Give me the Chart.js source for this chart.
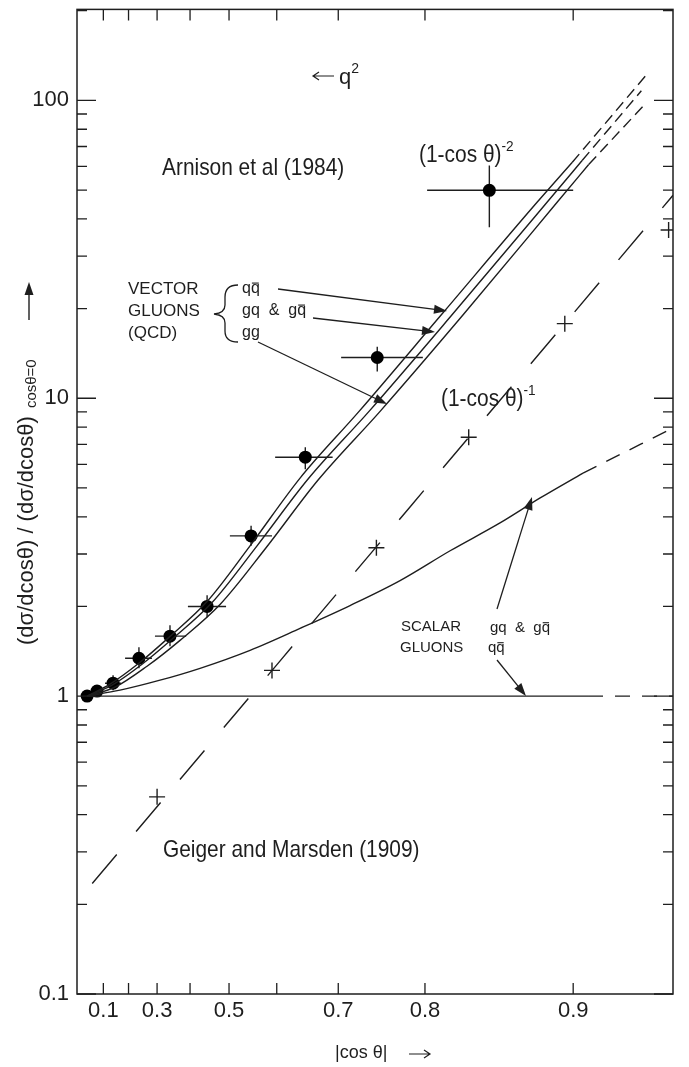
<!DOCTYPE html>
<html lang="en">
<head>
  <meta charset="UTF-8">
  <script src="https://cdn.jsdelivr.net/npm/chart.js@4.4.0/dist/chart.umd.min.js"></script>
  <style>
    body { margin: 0; background: #fff; }
    .wrap { position: relative; width: 689px; height: 1067px; }
  </style>
</head>
<body>
  <div class="wrap"><canvas id="plot"></canvas></div>
  <script>
    // axis ticks (|cos theta| along x, ratio along y)
    const xTicks = [0.1, 0.2, 0.3, 0.4, 0.5, 0.6, 0.7, 0.8, 0.9];
    const xTickLabels = ['0.1', '', '0.3', '', '0.5', '', '0.7', '0.8', '0.9'];
    const yTicks = [0.1, 1, 10, 100];
    const yTickLabels = ['0.1', '1', '10', '100'];

    // Arnison et al (1984), with error bars
    const arnCos   = [0.029, 0.073, 0.140, 0.238, 0.341, 0.446, 0.549, 0.650, 0.750, 0.852];
    const arnVal   = [1.0, 1.04, 1.105, 1.34, 1.59, 2.0, 3.45, 6.34, 13.7, 49.9];
    const arnCosLo = [null, null, 0.107, 0.187, 0.293, 0.394, 0.502, 0.597, 0.704, 0.802];
    const arnCosHi = [null, null, 0.171, 0.283, 0.389, 0.493, 0.591, 0.692, 0.798, 0.900];
    const arnValLo = [null, null, 1.047, 1.24, 1.47, 1.84, 3.2, 5.78, 12.3, 37.5];
    const arnValHi = [null, null, 1.175, 1.458, 1.73, 2.18, 3.73, 6.85, 14.9, 60.4];

    // Geiger and Marsden (1909)
    const gmCos = [0.300, 0.591, 0.749, 0.837, 0.896, 0.936];
    const gmVal = [0.459, 1.22, 3.15, 7.4, 17.8, 36.7];

    // Rutherford line through them
    const rutCos = [0.052, 0.9373];
    const rutVal = [0.235, 48.0];

    // vector gluons (QCD)
    const qqCos = [0.0286, 0.1277, 0.2419, 0.3411, 0.4458, 0.5468, 0.6413, 0.7278, 0.8162, 0.8816, 0.8995];
    const qqVal = [1, 1.097, 1.299, 1.587, 2.077, 3.196, 5.395, 9.035, 19.36, 45.48, 61.86];
    const qqExtCos = [0.8995, 0.9287];
    const qqExtVal = [61.86, 120.8];

    const gqCos = [0.0286, 0.1358, 0.2489, 0.3503, 0.4587, 0.5614, 0.6545, 0.7402, 0.8238, 0.887, 0.9041];
    const gqVal = [1, 1.088, 1.279, 1.563, 2.061, 3.196, 5.354, 9.035, 19.06, 45.48, 62.83];
    const gqExtCos = [0.9041, 0.9273];
    const gqExtVal = [62.83, 107.7];

    const ggCos = [0.0286, 0.1479, 0.2663, 0.3712, 0.4785, 0.5795, 0.6703, 0.7533, 0.8327, 0.8922, 0.907];
    const ggVal = [1, 1.072, 1.26, 1.539, 2.03, 3.148, 5.313, 9.035, 19.06, 45.48, 60.92];
    const ggExtCos = [0.907, 0.9277];
    const ggExtVal = [60.92, 95.2];

    // scalar gluons
    const scCos = [0.0286, 0.1675, 0.3096, 0.4274, 0.5468, 0.6413, 0.7161, 0.7753, 0.8222, 0.8592, 0.8833, 0.9045];
    const scVal = [1, 1.047, 1.131, 1.24, 1.425, 1.688, 2.014, 2.442, 3.076, 3.815, 4.626, 5.607];
    const scExtCos = [0.9045, 0.9383];
    const scExtVal = [5.607, 8.05];

    const flatCos = [0.0286, 0.9067];
    const flatVal = [1, 1];
    const flatExtCos = [0.9067, 0.9383];
    const flatExtVal = [1, 1];

    // x is plotted as 1/(1-cos) on a log axis
    const u = c => 1 / (1 - c);
    const pts = (cs, vs) => cs.map((c, i) => ({ x: u(c), y: vs[i] }));

    const INK = '#1e1e1e';
    const FONT = '"Liberation Sans", Arial, sans-serif';

    function curve(cs, vs, dash) {
      return {
        data: pts(cs, vs), showLine: true, pointRadius: 0,
        borderColor: INK, borderWidth: 1.4, borderDash: dash || [],
        cubicInterpolationMode: 'monotone'
      };
    }

    // text helpers (slightly condensed like the original lettering)
    function rich(ctx, x, y, segs, sx) {
      ctx.save();
      ctx.translate(x, y);
      ctx.scale(sx || 1, 1);
      ctx.textBaseline = 'alphabetic';
      ctx.textAlign = 'left';
      let cx = 0;
      segs.forEach(s => {
        ctx.font = s.size + 'px ' + FONT;
        ctx.fillText(s.t, cx, s.dy || 0);
        const w = ctx.measureText(s.t).width;
        if (s.bar) {
          ctx.lineWidth = 1.1;
          ctx.beginPath();
          ctx.moveTo(cx + w - ctx.measureText(s.bar).width + 1, (s.dy || 0) - s.size * 0.62);
          ctx.lineTo(cx + w - 1, (s.dy || 0) - s.size * 0.62);
          ctx.stroke();
        }
        cx += w;
      });
      ctx.restore();
    }

    function arrow(ctx, x1, y1, x2, y2) {
      const a = Math.atan2(y2 - y1, x2 - x1), L = 13, W = 4.5;
      ctx.beginPath();
      ctx.moveTo(x1, y1);
      ctx.lineTo(x2 - L * Math.cos(a) * 0.8, y2 - L * Math.sin(a) * 0.8);
      ctx.stroke();
      ctx.beginPath();
      ctx.moveTo(x2, y2);
      ctx.lineTo(x2 - L * Math.cos(a) + W * Math.sin(a), y2 - L * Math.sin(a) - W * Math.cos(a));
      ctx.lineTo(x2 - L * Math.cos(a) - W * Math.sin(a), y2 - L * Math.sin(a) + W * Math.cos(a));
      ctx.closePath();
      ctx.fill();
    }

    // thin text-style arrow (open head)
    function thinArrow(ctx, x1, y1, x2, y2) {
      const a = Math.atan2(y2 - y1, x2 - x1), L = 6, W = 4;
      ctx.beginPath();
      ctx.moveTo(x1, y1);
      ctx.lineTo(x2, y2);
      ctx.moveTo(x2 - L * Math.cos(a) + W * Math.sin(a), y2 - L * Math.sin(a) - W * Math.cos(a));
      ctx.lineTo(x2, y2);
      ctx.lineTo(x2 - L * Math.cos(a) - W * Math.sin(a), y2 - L * Math.sin(a) + W * Math.cos(a));
      ctx.stroke();
    }

    const framePlugin = {
      id: 'frame',
      beforeDatasetsDraw(chart) {
        const { ctx, scales: { x, y } } = chart;
        const X = c => x.getPixelForValue(u(c));
        const Y = v => y.getPixelForValue(v);
        ctx.save();
        ctx.strokeStyle = INK;
        ctx.lineWidth = 1.4;
        // error bars
        arnCos.forEach((c, i) => {
          if (arnCosLo[i] == null) return;
          ctx.beginPath();
          ctx.moveTo(X(arnCosLo[i]), Y(arnVal[i]));
          ctx.lineTo(X(arnCosHi[i]), Y(arnVal[i]));
          ctx.moveTo(X(c), Y(arnValLo[i]));
          ctx.lineTo(X(c), Y(arnValHi[i]));
          ctx.stroke();
        });
        ctx.restore();
      },
      afterDraw(chart) {
        const { ctx, chartArea: a, scales: { x, y } } = chart;
        const X = c => x.getPixelForValue(u(c));
        const Y = v => y.getPixelForValue(v);
        ctx.save();
        ctx.strokeStyle = INK;
        ctx.fillStyle = INK;
        ctx.lineWidth = 1.5;
        ctx.strokeRect(a.left, a.top, a.right - a.left, a.bottom - a.top);

        // x ticks, top and bottom, pointing inward
        ctx.lineWidth = 1.3;
        xTicks.forEach(c => {
          const px = X(c);
          ctx.beginPath();
          ctx.moveTo(px, a.bottom); ctx.lineTo(px, a.bottom - 11);
          ctx.moveTo(px, a.top); ctx.lineTo(px, a.top + 11);
          ctx.stroke();
        });
        // y ticks, left and right
        yTicks.forEach(d => {
          for (let k = 1; k <= 9; k++) {
            const v = d * k;
            if (v > y.max * 1.0001) continue;
            const py = Y(v), L = k === 1 ? 19 : 10;
            ctx.beginPath();
            ctx.moveTo(a.left, py); ctx.lineTo(a.left + L, py);
            ctx.moveTo(a.right, py); ctx.lineTo(a.right - L, py);
            ctx.stroke();
          }
        });

        // tick labels
        ctx.font = '22px ' + FONT;
        ctx.textBaseline = 'middle';
        ctx.textAlign = 'center';
        xTicks.forEach((c, i) => { if (xTickLabels[i]) ctx.fillText(xTickLabels[i], X(c), a.bottom + 17); });
        ctx.textAlign = 'right';
        yTicks.forEach((v, i) => ctx.fillText(yTickLabels[i], a.left - 8, Y(v)));

        // axis titles
        ctx.font = '18px ' + FONT;
        ctx.textAlign = 'left';
        ctx.fillText('|cos \u03B8|', 335, 1053);
        ctx.lineWidth = 1.2;
        thinArrow(ctx, 409, 1054, 430, 1054);

        ctx.save();
        ctx.translate(27, 645);
        ctx.rotate(-Math.PI / 2);
        ctx.textBaseline = 'middle';
        ctx.font = '22px ' + FONT;
        const main = '(d\u03C3/dcos\u03B8) / (d\u03C3/dcos\u03B8)';
        ctx.fillText(main, 0, 0);
        const w = ctx.measureText(main).width;
        ctx.font = '15px ' + FONT;
        ctx.fillText('cos\u03B8=0', w + 8, 5);
        ctx.restore();
        ctx.lineWidth = 1.4;
        arrow(ctx, 29, 320, 29, 282);

        // annotations
        ctx.lineWidth = 1.2;
        thinArrow(ctx, 334, 76, 313, 76);
        rich(ctx, 339, 84, [{ t: 'q', size: 22 }, { t: '2', size: 14, dy: -11 }]);
        rich(ctx, 162, 175, [{ t: 'Arnison et al (1984)', size: 24 }], 0.87);
        rich(ctx, 419, 162, [{ t: '(1-cos \u03B8)', size: 23 }, { t: '-2', size: 15, dy: -11 }], 0.91);
        rich(ctx, 441, 406, [{ t: '(1-cos \u03B8)', size: 23 }, { t: '-1', size: 15, dy: -11 }], 0.91);
        rich(ctx, 163, 857, [{ t: 'Geiger and Marsden (1909)', size: 24 }], 0.87);

        rich(ctx, 128, 294, [{ t: 'VECTOR', size: 17 }]);
        rich(ctx, 128, 316, [{ t: 'GLUONS', size: 17 }]);
        rich(ctx, 128, 338, [{ t: '(QCD)', size: 17 }]);
        rich(ctx, 242, 293, [{ t: 'qq', size: 16, bar: 'q' }]);
        rich(ctx, 242, 315, [{ t: 'gq  &  gq', size: 16, bar: 'q' }]);
        rich(ctx, 242, 337, [{ t: 'gg', size: 16 }]);

        // brace
        ctx.lineWidth = 1.3;
        ctx.beginPath();
        ctx.moveTo(238, 285);
        ctx.quadraticCurveTo(225, 285, 225, 297);
        ctx.lineTo(225, 305);
        ctx.quadraticCurveTo(225, 313, 214, 314);
        ctx.quadraticCurveTo(225, 315, 225, 323);
        ctx.lineTo(225, 331);
        ctx.quadraticCurveTo(225, 342, 238, 342);
        ctx.stroke();

        ctx.lineWidth = 1.3;
        arrow(ctx, 278, 289, 447, 311);
        arrow(ctx, 313, 318, 435, 332);
        arrow(ctx, 258, 342, 387, 404);

        rich(ctx, 401, 631, [{ t: 'SCALAR', size: 15 }]);
        rich(ctx, 400, 652, [{ t: 'GLUONS', size: 15 }]);
        rich(ctx, 490, 632, [{ t: 'gq  &  gq', size: 15, bar: 'q' }]);
        rich(ctx, 488, 652, [{ t: 'qq', size: 15, bar: 'q' }]);
        arrow(ctx, 497, 609, 532, 497);
        arrow(ctx, 497, 660, 526, 696);
        ctx.restore();
      }
    };

    new Chart(document.getElementById('plot'), {
      type: 'scatter',
      data: {
        datasets: [
          curve(qqCos, qqVal), curve(qqExtCos, qqExtVal, [11, 6]),
          curve(gqCos, gqVal), curve(gqExtCos, gqExtVal, [11, 6]),
          curve(ggCos, ggVal), curve(ggExtCos, ggExtVal, [11, 6]),
          curve(scCos, scVal), curve(scExtCos, scExtVal, [15, 11]),
          curve(flatCos, flatVal), curve(flatExtCos, flatExtVal, [15, 12]),
          curve(rutCos, rutVal, [38, 30]),
          {
            data: pts(gmCos, gmVal), pointStyle: 'cross', pointRadius: 8,
            borderColor: INK, borderWidth: 1.4, showLine: false
          },
          {
            data: pts(arnCos, arnVal), pointStyle: 'circle', pointRadius: 6.5,
            backgroundColor: '#000', borderColor: '#000', borderWidth: 0, showLine: false
          }
        ]
      },
      options: {
        responsive: true,
        maintainAspectRatio: false,
        animation: false,
        layout: { padding: { left: 77, right: 16, top: 6, bottom: 73 } },
        plugins: { legend: { display: false }, tooltip: { enabled: false } },
        scales: {
          x: { type: 'logarithmic', display: false, min: u(-0.018), max: u(0.9373) },
          y: { type: 'logarithmic', display: false, min: 0.1, max: 202 }
        }
      },
      plugins: [framePlugin]
    });
  </script>
</body>
</html>
